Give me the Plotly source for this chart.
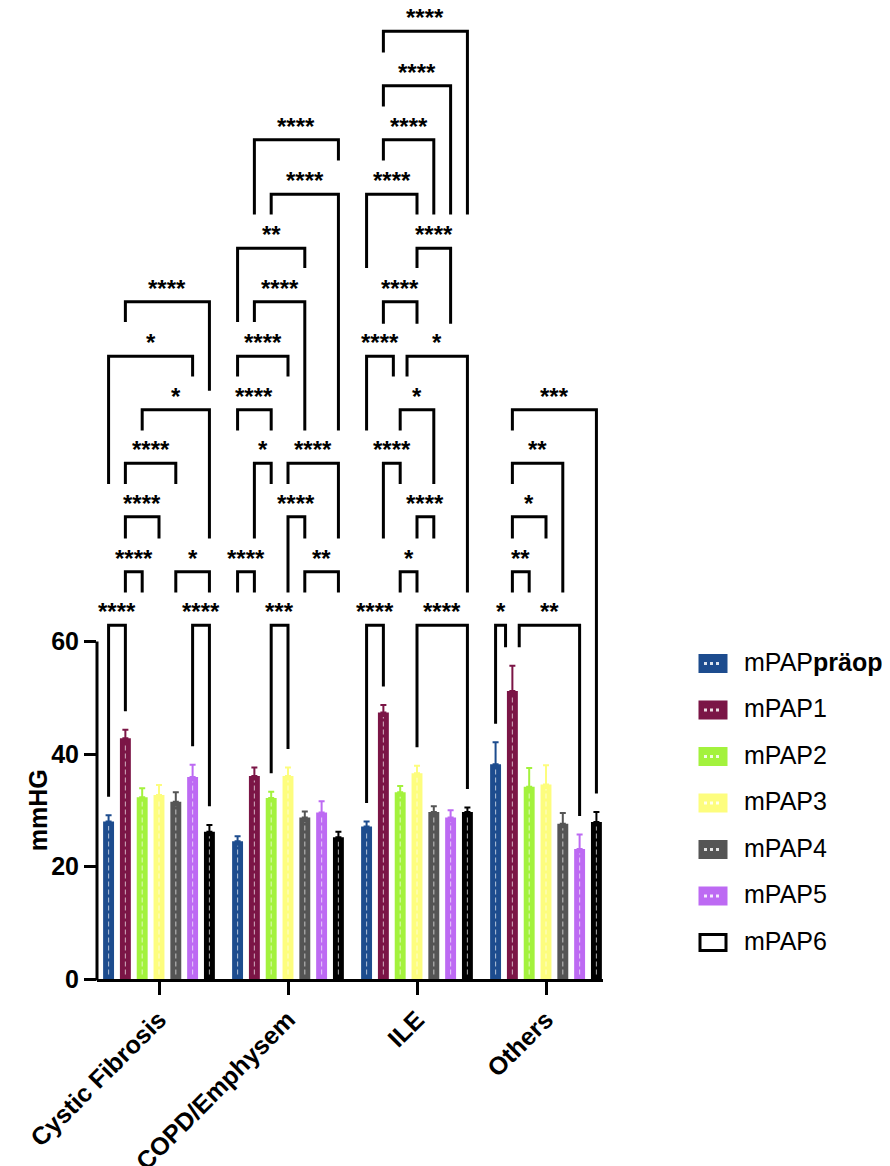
import plotly.graph_objects as go

# ---------------- data ----------------
CATEGORIES = ["Cystic Fibrosis", "COPD/Emphysem", "ILE", "Others"]
SERIES = ["mPAPpräop", "mPAP1", "mPAP2", "mPAP3", "mPAP4", "mPAP5", "mPAP6"]
LEGEND_TEXT = ["mPAP<b>präop</b>", "mPAP1", "mPAP2", "mPAP3", "mPAP4", "mPAP5", "mPAP6"]
COLORS = ["#1D4C8E", "#7B1546", "#A3F23D", "#FDFD7E", "#555555", "#BD6AF3", "#000000"]

MEAN_PRAEOP = [28.0, 24.5, 27.1, 38.2]
MEAN_1 = [42.8, 36.1, 47.4, 51.2]
MEAN_2 = [32.3, 32.2, 33.2, 34.2]
MEAN_3 = [32.7, 36.1, 36.6, 34.6]
MEAN_4 = [31.5, 28.7, 29.7, 27.6]
MEAN_5 = [35.9, 29.6, 28.7, 23.1]
MEAN_6 = [26.2, 25.2, 29.7, 27.9]

SEM_PRAEOP = [1.1, 0.9, 0.9, 3.9]
SEM_1 = [1.5, 1.5, 1.3, 4.5]
SEM_2 = [1.6, 1.1, 1.1, 3.3]
SEM_3 = [1.8, 1.5, 1.3, 3.4]
SEM_4 = [1.7, 1.1, 1.0, 1.9]
SEM_5 = [2.2, 2.0, 1.3, 2.6]
SEM_6 = [1.2, 1.0, 0.8, 1.8]

Y_TICKS = [0, 20, 40, 60]

# significance brackets: (group a, group b, label, bracket level, left leg end, right leg end)
# leg end None = leg runs down to just above that bar's error bar
BRACKETS_CF = [
    (0, 1, "****", 62.9, None, None),
    (5, 6, "****", 62.9, None, None),
    (1, 2, "****", 72.4, 68.7, 68.7),
    (4, 6, "*", 72.4, 68.7, 68.7),
    (1, 3, "****", 82.2, 78.3, 78.3),
    (1, 4, "****", 91.7, 88.0, 88.0),
    (2, 6, "*", 101.2, 97.5, 78.3),
    (0, 5, "*", 110.7, 88.0, 107.1),
    (1, 6, "****", 120.4, 116.8, 104.6),
]
BRACKETS_COPD = [
    (2, 3, "***", 62.9, None, None),
    (0, 1, "****", 72.4, 68.7, 68.7),
    (4, 6, "**", 72.4, 68.7, 68.7),
    (3, 4, "****", 82.2, 68.7, 78.3),
    (1, 2, "*", 91.7, 78.3, 88.0),
    (3, 6, "****", 91.7, 88.0, 78.3),
    (0, 2, "****", 101.2, 97.5, 97.5),
    (0, 3, "****", 110.7, 107.1, 107.1),
    (1, 4, "****", 120.4, 116.8, 97.5),
    (0, 4, "**", 129.9, 116.8, 126.4),
    (2, 6, "****", 139.5, 135.9, 97.5),
    (1, 6, "****", 149.2, 135.9, 145.5),
]
BRACKETS_ILE = [
    (0, 1, "****", 62.9, None, None),
    (3, 6, "****", 62.9, None, None),
    (2, 3, "*", 72.4, 68.7, 68.7),
    (3, 4, "****", 82.2, 78.3, 78.3),
    (1, 2, "****", 91.7, 78.3, 88.0),
    (2, 4, "*", 101.2, 97.5, 88.0),
    (0, 2, "****", 110.7, 97.5, 107.1),
    (2, 6, "*", 110.7, 107.1, 68.7),
    (1, 3, "****", 120.4, 116.5, 116.5),
    (3, 5, "****", 129.9, 126.4, 116.5),
    (0, 3, "****", 139.5, 126.4, 135.9),
    (1, 4, "****", 149.2, 145.5, 135.9),
    (1, 5, "****", 158.8, 155.1, 135.9),
    (1, 6, "****", 168.5, 164.7, 135.9),
]
BRACKETS_OTHERS = [
    (0, 1, "*", 62.9, None, None),
    (1, 5, "**", 62.9, None, None),
    (1, 2, "**", 72.4, 68.7, 68.7),
    (1, 3, "*", 82.2, 78.3, 78.3),
    (1, 4, "**", 91.7, 88.0, 68.7),
    (1, 6, "***", 101.2, 97.5, None),
]

MEANS = [MEAN_PRAEOP, MEAN_1, MEAN_2, MEAN_3, MEAN_4, MEAN_5, MEAN_6]
SEMS = [SEM_PRAEOP, SEM_1, SEM_2, SEM_3, SEM_4, SEM_5, SEM_6]
BRACKETS = [BRACKETS_CF, BRACKETS_COPD, BRACKETS_ILE, BRACKETS_OTHERS]

# ---------------- layout constants ----------------
FONT = "Liberation Sans, Arial, Helvetica, sans-serif"
PAGE_OFF = 8                      # default body margin of the html page
W, H = 890 - PAGE_OFF, 1166 - PAGE_OFF
PLOT_L, PLOT_R, PLOT_T, PLOT_B = 97, 603, PAGE_OFF, 979   # page pixels
ML = PLOT_L - PAGE_OFF
MT = PLOT_T - PAGE_OFF
PW, PH = PLOT_R - PLOT_L, PLOT_B - PLOT_T
MR = W - ML - PW
MB = H - MT - PH
X_RANGE = [-0.4806, -0.4806 + PW / 129.0]
Y_MAX = PH / 5.625
BARGAP = 0.088
GROUPGAP = 0.35
NS = len(SERIES)
SLOT = (1 - BARGAP) / NS
NUDGE = 0.053          # leg shift when two brackets share a bar on one level
BAR_CLEAR = 3.3        # gap between error bar and bracket leg (mmHg)
LW = 3


def bar_x(ci, si):
    return ci + (si - (NS - 1) / 2) * SLOT


def px_to_paper_x(px):
    return (px - PLOT_L) / PW


def px_to_paper_y(py):
    return (PLOT_B - py) / PH


fig = go.Figure()

# bars with one-sided SEM error bars
for si, name in enumerate(SERIES):
    fig.add_trace(go.Bar(
        x=CATEGORIES, y=MEANS[si], name=name,
        marker=dict(color=COLORS[si], line=dict(width=0)),
        error_y=dict(type="data", symmetric=False, array=SEMS[si],
                     arrayminus=[0] * len(CATEGORIES), color=COLORS[si],
                     thickness=2, width=3),
        showlegend=False, hoverinfo="skip",
    ))

# dashed centre line inside each bar (pattern of the original)
for si, name in enumerate(SERIES):
    xs, ys = [], []
    for ci, cat in enumerate(CATEGORIES):
        xs += [cat, cat, None]
        ys += [0.8, MEANS[si][ci] - 0.8, None]
    fig.add_trace(go.Scatter(
        x=xs, y=ys, mode="lines", showlegend=False, hoverinfo="skip",
        line=dict(color="rgba(255,255,255,0.6)", width=1.1, dash="5px,3px"),
    ))

shapes = []
annotations = []

# significance brackets
for ci, blist in enumerate(BRACKETS):
    for (a, b, lab, lvl, le, re) in blist:
        dl = dr = 0.0
        for (a2, b2, _, lvl2, _, _) in blist:
            if lvl2 == lvl and (a2, b2) != (a, b):
                if b2 == a:
                    dl = NUDGE
                if a2 == b:
                    dr = -NUDGE
        x1 = bar_x(ci, a) + dl
        x2 = bar_x(ci, b) + dr
        y1 = le if le is not None else MEANS[a][ci] + SEMS[a][ci] + BAR_CLEAR
        y2 = re if re is not None else MEANS[b][ci] + SEMS[b][ci] + BAR_CLEAR
        shapes.append(dict(
            type="path", xref="x", yref="y",
            path=f"M {x1},{y1} L {x1},{lvl} L {x2},{lvl} L {x2},{y2}",
            line=dict(color="black", width=LW),
        ))
        annotations.append(dict(
            x=(x1 + x2) / 2, y=lvl, xref="x", yref="y", text=lab,
            showarrow=False, xanchor="center", yanchor="bottom", yshift=-2,
            font=dict(family=FONT, size=24, color="black", weight="bold"),
        ))

# y axis line (only 0..60)
shapes.append(dict(
    type="line", xref="paper", yref="paper",
    x0=0, x1=0, y0=-1.5 / PH, y1=max(Y_TICKS) / Y_MAX,
    line=dict(color="black", width=LW),
))

# y axis title
annotations.append(dict(
    x=px_to_paper_x(38), y=30, xref="paper", yref="y", text="mmHG",
    textangle=-90, showarrow=False, xanchor="center", yanchor="middle",
    font=dict(family=FONT, size=25, color="black", weight="bold"),
))

# custom legend
for si, name in enumerate(SERIES):
    cy = 663.5 + 46.5 * si
    x0, x1 = px_to_paper_x(700), px_to_paper_x(726)
    y0, y1 = px_to_paper_y(cy + 8), px_to_paper_y(cy - 8)
    is_open = si == NS - 1
    shapes.append(dict(
        type="rect", xref="paper", yref="paper", x0=x0, x1=x1, y0=y0, y1=y1,
        fillcolor="white" if is_open else COLORS[si],
        line=dict(color=COLORS[si], width=LW),
    ))
    if not is_open:
        shapes.append(dict(
            type="line", xref="paper", yref="paper",
            x0=px_to_paper_x(704), x1=px_to_paper_x(722),
            y0=px_to_paper_y(cy), y1=px_to_paper_y(cy),
            line=dict(color="rgba(255,255,255,0.85)", width=3, dash="3px,3px"),
        ))
    annotations.append(dict(
        x=px_to_paper_x(742), y=px_to_paper_y(cy), xref="paper", yref="paper",
        text=LEGEND_TEXT[si], showarrow=False, xanchor="left", yanchor="middle",
        yshift=2, font=dict(family=FONT, size=25, color="black"),
    ))

fig.update_layout(
    width=W, height=H,
    margin=dict(l=ML, r=MR, t=MT, b=MB, pad=0, autoexpand=False),
    paper_bgcolor="white", plot_bgcolor="white",
    barmode="group", bargap=BARGAP, bargroupgap=GROUPGAP,
    scattermode="group", scattergap=BARGAP,
    showlegend=False,
    font=dict(family=FONT, color="black"),
    xaxis=dict(
        range=X_RANGE, showline=True, linewidth=LW, linecolor="black",
        ticks="outside", ticklen=13, tickwidth=LW, tickcolor="black",
        tickangle=-45, tickfont=dict(family=FONT, size=25, weight="bold"),
        showgrid=False, zeroline=False, fixedrange=True, automargin=False,
    ),
    yaxis=dict(
        range=[0, Y_MAX], tickvals=Y_TICKS, showline=False,
        ticks="outside", ticklen=12, tickwidth=LW, tickcolor="black",
        tickfont=dict(family=FONT, size=25, weight="bold"),
        showgrid=False, zeroline=False, fixedrange=True, automargin=False,
    ),
    shapes=shapes, annotations=annotations,
)

fig.write_html("out.html")
